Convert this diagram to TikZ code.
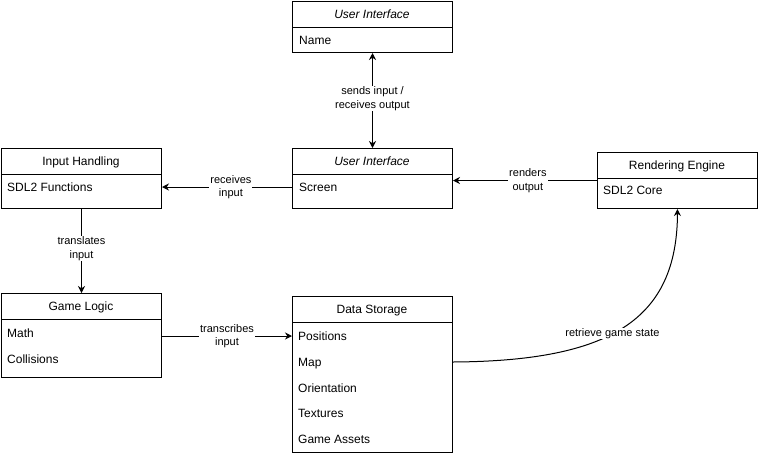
\documentclass[tikz,border=0pt]{standalone}
\usepackage{fontspec}
\setmainfont{Liberation Sans}
\usetikzlibrary{arrows.meta,calc}
\begin{document}
\begin{tikzpicture}[x=1pt,y=-1pt,
  box/.style={draw,line width=1pt,minimum width=160pt,inner sep=0pt,anchor=north west},
  hdr/.style={font=\fontsize{12}{14}\selectfont,inner sep=0pt,text height=10pt,text depth=2pt},
  itm/.style={font=\fontsize{12}{14}\selectfont,inner sep=0pt,anchor=west,text height=10pt,text depth=2pt},
  lbl/.style={font=\fontsize{11}{13.5}\selectfont,fill=white,align=center,inner sep=1pt},
  arr/.style={line width=1pt,-{Stealth[length=7pt,width=7pt]}},
  darr/.style={line width=1pt,{Stealth[length=7pt,width=7pt]}-{Stealth[length=7pt,width=7pt]}}]
\useasboundingbox (0,0) rectangle (758,456);
% top UI
\node[box,minimum height=51pt] (ui1) at (292,1) {};
\draw[line width=1pt] (292,27) -- (452,27);
\node[hdr] (ui1h) at (372,14) {\itshape User Interface};
\node[itm] (name) at (299,40) {Name};
% middle UI
\node[box,minimum height=60pt] (ui2) at (292,148) {};
\draw[line width=1pt] (292,174) -- (452,174);
\node[hdr] (ui2h) at (372,161) {\itshape User Interface};
\node[itm] (scr) at (299,187) {Screen};
% input handling
\node[box,minimum height=60pt] (ih) at (1,148) {};
\draw[line width=1pt] (1,174) -- (161,174);
\node[hdr] (ihh) at (81,161) {Input Handling};
\node[itm] (sdlf) at (7,187) {SDL2 Functions};
% rendering engine
\node[box,minimum height=56pt] (re) at (597,152) {};
\draw[line width=1pt] (597,178) -- (757,178);
\node[hdr] (reh) at (677,165) {Rendering Engine};
\node[itm] (sdlc) at (603,190) {SDL2 Core};
% game logic
\node[box,minimum height=84pt] (gl) at (1,293) {};
\draw[line width=1pt] (1,319) -- (161,319);
\node[hdr] (glh) at (81,306) {Game Logic};
\node[itm] (math) at (7,333) {Math};
\node[itm] (coll) at (7,359) {Collisions};
% data storage
\node[box,minimum height=156pt] (ds) at (292,296) {};
\draw[line width=1pt] (292,322) -- (452,322);
\node[hdr] (dsh) at (372,309) {Data Storage};
\node[itm] (pos) at (298,336) {Positions};
\node[itm] (map) at (298,362) {Map};
\node[itm] (ori) at (298,388) {Orientation};
\node[itm] (tex) at (298,413) {Textures};
\node[itm] (ga) at (298,439) {Game Assets};
% connectors
\draw[darr] (ui1.south) -- node[lbl,pos=0.48] {sends input /\\receives output} (ui2.north);
\draw[arr] (ui2.west |- scr.center) -- node[lbl,pos=0.47] {receives\\input} (ih.east |- scr.center);
\draw[arr] (re.west) -- node[lbl,pos=0.48] {renders\\output} (ui2.east |- re.west);
\draw[arr] (ih.south) -- node[lbl,pos=0.47] {translates\\input} (gl.north);
\draw[arr] (gl.east |- pos.center) -- node[lbl,pos=0.5] {transcribes\\input} (ds.west |- pos.center);
\draw[arr] (ds.east |- map.center) .. controls (610,361) and (677,320) .. (re.south)
  node[lbl,pos=0.45,inner sep=0.5pt] {retrieve game state};
\end{tikzpicture}
\end{document}
